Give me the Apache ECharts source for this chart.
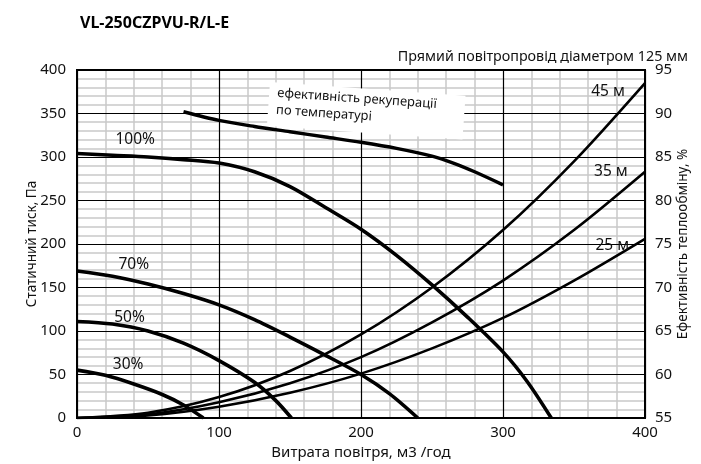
<!DOCTYPE html>
<html>
<head>
<meta charset="utf-8">
<script src="https://cdn.jsdelivr.net/npm/echarts@6/dist/echarts.min.js"></script>
<style>
html,body{margin:0;padding:0;background:#fff;}
#chart{width:701px;height:464px;}
</style>
</head>
<body>
<div id="chart"></div>
<script>
// ---- data (x: air flow m3/h, y: static pressure Pa / efficiency %) ----
const fan100 = [[0,304],[25,302],[50,300],[75,297],[100,293],[125,283],[150,266],[175,242],[200,217],[225,187],[250,153],[275,116],[300,76],[317,42],[334,0]];
const fan70  = [[0,169],[25,163],[50,154],[75,143],[100,130],[125,113],[150,93],[175,72],[200,50],[220,28],[240,0]];
const fan50  = [[0,111],[25,108],[50,100],[75,86],[100,66],[125,41],[140,20],[151,0]];
const fan30  = [[0,55],[20,49],[40,39],[60,27],[75,15],[89,0]];
const duct45 = [[0,0],[50,6],[100,24],[150,54],[200,96],[250,150],[300,216],[350,295],[400,385]];
const duct35 = [[0,0],[50,4],[100,18],[150,40],[200,70],[250,110],[300,158],[350,216],[400,283]];
const duct25 = [[0,0],[50,3],[100,13],[150,29],[200,51],[250,80],[300,115],[350,158],[400,206]];
const efficiency = [[75,90.2],[100,89.2],[125,88.5],[150,87.9],[175,87.3],[200,86.7],[225,86.0],[250,85.1],[265,84.3],[280,83.3],[300,81.8]];

const curveLabels = [
  {name:'100%', coord:[41,320]},
  {name:'70%',  coord:[40,176]},
  {name:'50%',  coord:[37,116]},
  {name:'30%',  coord:[36,61]},
  {name:'45 м', coord:[374,375]},
  {name:'35 м', coord:[376,283]},
  {name:'25 м', coord:[377,198]}
];

const titleText = 'VL-250CZPVU-R/L-E';
const subText = 'Прямий повітропровід діаметром 125 мм';
const xName = 'Витрата повітря, м3 /год';
const yLeftName = 'Статичний тиск, Па';
const yRightName = 'Ефективність теплообміну, %';
const noteLines = ['ефективність рекуперації', 'по температурі'];

// minor grid steps (x every 20, y every 10)
const X_MIN = 0, X_MAX = 400, X_MINOR = 20;
const Y_MIN = 0, Y_MAX = 400, Y_MINOR = 10;
const minorX = [], minorY = [];
for (let v = X_MIN + X_MINOR; v < X_MAX; v += X_MINOR) if (v % 100) minorX.push(v);
for (let v = Y_MIN + Y_MINOR; v < Y_MAX; v += Y_MINOR) if (v % 50) minorY.push(v);

const FONT = 'Noto Sans';
const chart = echarts.init(document.getElementById('chart'), null, {renderer:'canvas'});

function lineSeries(data, width, yIdx){
  return {
    type:'line', data:data, yAxisIndex:yIdx||0, smooth:0.3, symbol:'none',
    lineStyle:{color:'#000', width:width}, z:3, silent:true, animation:false
  };
}

const series = [
  {
    type:'line', data:[], symbol:'none', z:0, silent:true, animation:false,
    markLine:{
      silent:true, symbol:['none','none'], animation:false, z:0,
      label:{show:false},
      lineStyle:{color:'#c8c8c8', width:1.5, type:'solid'},
      emphasis:{disabled:true},
      data: minorX.map(v=>({xAxis:v})).concat(minorY.map(v=>({yAxis:v})))
    }
  },
  lineSeries(fan100, 3.6), lineSeries(fan70, 3.6), lineSeries(fan50, 3.6), lineSeries(fan30, 3.6),
  lineSeries(duct45, 2.6), lineSeries(duct35, 2.6), lineSeries(duct25, 2.6),
  lineSeries(efficiency, 3.4, 1),
  {
    type:'line', data:[], symbol:'none', animation:false, z:4,
    markPoint:{
      symbol:'circle', symbolSize:0, animation:false,
      label:{show:true, position:'inside', color:'#111', fontFamily:FONT, fontSize:15.5, formatter:p=>p.name},
      data: curveLabels.map(l=>({name:l.name, coord:l.coord}))
    }
  }
];

chart.setOption({
  animation:false,
  backgroundColor:'#fff',
  title:[
    {text:titleText, left:75, top:10, textStyle:{fontFamily:FONT, fontSize:16, fontWeight:'bold', color:'#000'}},
    {text:subText, right:8, top:45, textStyle:{fontFamily:FONT, fontSize:14.3, fontWeight:'normal', color:'#111'}}
  ],
  grid:{left:77, right:56, top:70, bottom:46, show:true, borderColor:'#000', borderWidth:2,
        backgroundColor:'transparent', z:2, containLabel:false, outerBoundsMode:'none'},
  xAxis:{
    type:'value', min:X_MIN, max:X_MAX, interval:100, z:1,
    name:xName, nameLocation:'middle', nameGap:25,
    nameTextStyle:{fontFamily:FONT, fontSize:15, color:'#111'},
    axisLine:{show:true, lineStyle:{color:'#000', width:2}},
    axisTick:{show:false},
    axisLabel:{fontFamily:FONT, fontSize:15, color:'#111', margin:7},
    splitLine:{show:true, lineStyle:{color:'#000', width:1.2}}
  },
  yAxis:[
    {
      type:'value', min:Y_MIN, max:Y_MAX, interval:50, z:1,
      name:yLeftName, nameLocation:'middle', nameGap:38, nameRotate:90, nameMoveOverlap:false,
      nameTextStyle:{fontFamily:FONT, fontSize:13.5, color:'#111'},
      axisLine:{show:true, lineStyle:{color:'#000', width:2}},
      axisTick:{show:false},
      axisLabel:{fontFamily:FONT, fontSize:15, color:'#111', margin:11},
      splitLine:{show:true, lineStyle:{color:'#000', width:1.2}}
    },
    {
      type:'value', min:55, max:95, interval:5, position:'right', z:1,
      name:yRightName, nameLocation:'middle', nameGap:31, nameRotate:90, nameMoveOverlap:false,
      nameTextStyle:{fontFamily:FONT, fontSize:13.5, color:'#111'},
      axisLine:{show:true, lineStyle:{color:'#000', width:2}},
      axisTick:{show:false},
      axisLabel:{fontFamily:FONT, fontSize:15, color:'#111', margin:10},
      splitLine:{show:false}
    }
  ],
  graphic:[
    {
      type:'group', x:270, y:82, rotation:-0.07,
      children:[
        {type:'rect', shape:{x:0, y:0, width:196, height:44}, style:{fill:'#fff'}, z:1.5},
        {type:'text', x:8, y:4, style:{text:noteLines[0], fontFamily:FONT, fontSize:13, fill:'#111'}, z:1.6},
        {type:'text', x:8, y:21, style:{text:noteLines[1], fontFamily:FONT, fontSize:13, fill:'#111'}, z:1.6}
      ]
    }
  ],
  series:series
});
</script>
</body>
</html>
